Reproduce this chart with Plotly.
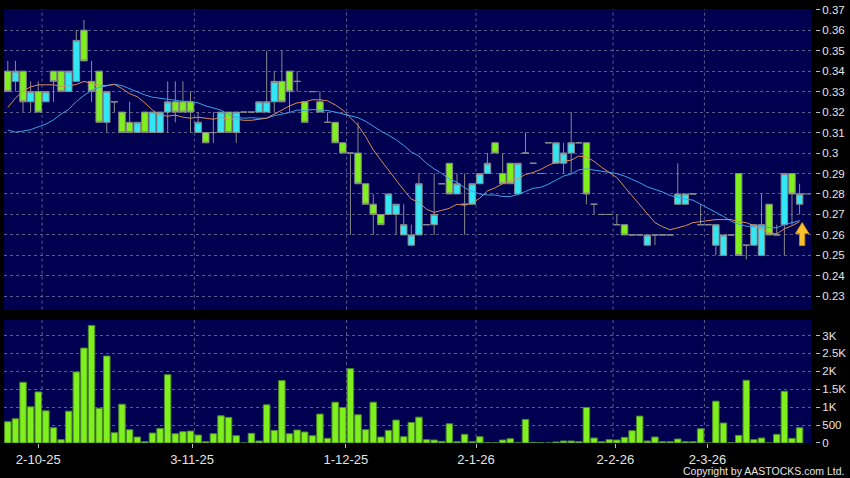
import plotly.graph_objects as go

# ---------------- data ----------------
opens = [0.34, 0.335, 0.34, 0.325, 0.33, 0.325, 0.34, 0.34, 0.33, 0.335,
         0.36, 0.335, 0.34, 0.315, 0.325, 0.32, 0.315, 0.31, 0.32, 0.31,
         0.31, 0.32, 0.325, 0.325, 0.325, 0.31, 0.31, 0.31, 0.31, 0.32,
         0.31, 0.32, 0.32, 0.32, 0.32, 0.325, 0.335, 0.34, 0.335, 0.325,
         0.33, 0.325, 0.315, 0.315, 0.305, 0.30, 0.30, 0.285, 0.275, 0.27,
         0.27, 0.27, 0.26, 0.255, 0.26, 0.265, 0.265, 0.285, 0.295, 0.28,
         0.275, 0.275, 0.285, 0.29, 0.305, 0.29, 0.295, 0.28, 0.30, 0.295,
         0.29, 0.305, 0.295, 0.295, 0.30, 0.305, 0.305, 0.275, 0.27, 0.27,
         0.265, 0.265, 0.26, 0.26, 0.255, 0.26, 0.26, 0.26, 0.275, 0.275,
         0.28, 0.265, 0.265, 0.255, 0.25, 0.26, 0.29, 0.255, 0.255, 0.25,
         0.275, 0.26, 0.265, 0.29, 0.275]
highs = [0.345, 0.345, 0.34, 0.335, 0.335, 0.33, 0.34, 0.34, 0.34, 0.36,
         0.365, 0.345, 0.34, 0.33, 0.325, 0.32, 0.325, 0.315, 0.32, 0.32,
         0.32, 0.335, 0.335, 0.335, 0.33, 0.32, 0.31, 0.32, 0.32, 0.32,
         0.32, 0.32, 0.32, 0.325, 0.35, 0.34, 0.35, 0.34, 0.34, 0.325,
         0.33, 0.33, 0.32, 0.315, 0.305, 0.30, 0.315, 0.285, 0.28, 0.27,
         0.28, 0.275, 0.275, 0.265, 0.29, 0.265, 0.29, 0.285, 0.295, 0.29,
         0.29, 0.285, 0.29, 0.30, 0.305, 0.30, 0.295, 0.295, 0.31, 0.295,
         0.29, 0.305, 0.305, 0.305, 0.32, 0.305, 0.305, 0.275, 0.27, 0.27,
         0.27, 0.265, 0.26, 0.26, 0.26, 0.26, 0.26, 0.26, 0.295, 0.28,
         0.28, 0.275, 0.265, 0.265, 0.26, 0.26, 0.29, 0.255, 0.265, 0.28,
         0.275, 0.265, 0.29, 0.29, 0.285]
lows = [0.33, 0.33, 0.32, 0.32, 0.32, 0.325, 0.325, 0.33, 0.33, 0.335,
        0.345, 0.325, 0.315, 0.31, 0.32, 0.31, 0.31, 0.31, 0.31, 0.31,
        0.31, 0.31, 0.315, 0.32, 0.31, 0.31, 0.305, 0.305, 0.31, 0.31,
        0.305, 0.32, 0.32, 0.32, 0.32, 0.32, 0.325, 0.32, 0.33, 0.315,
        0.33, 0.32, 0.315, 0.305, 0.30, 0.26, 0.285, 0.275, 0.26, 0.265,
        0.27, 0.26, 0.26, 0.255, 0.26, 0.265, 0.26, 0.285, 0.28, 0.28,
        0.26, 0.275, 0.285, 0.29, 0.30, 0.285, 0.285, 0.28, 0.30, 0.295,
        0.29, 0.305, 0.295, 0.29, 0.29, 0.305, 0.275, 0.27, 0.27, 0.27,
        0.265, 0.26, 0.26, 0.26, 0.255, 0.255, 0.26, 0.26, 0.275, 0.275,
        0.28, 0.265, 0.265, 0.25, 0.25, 0.26, 0.25, 0.248, 0.255, 0.25,
        0.26, 0.26, 0.25, 0.265, 0.27]
closes = [0.33, 0.34, 0.325, 0.33, 0.32, 0.33, 0.335, 0.33, 0.34, 0.355,
          0.345, 0.33, 0.315, 0.33, 0.325, 0.31, 0.31, 0.315, 0.31, 0.32,
          0.32, 0.325, 0.32, 0.32, 0.32, 0.315, 0.305, 0.31, 0.32, 0.31,
          0.32, 0.32, 0.32, 0.325, 0.325, 0.335, 0.325, 0.33, 0.335, 0.315,
          0.33, 0.32, 0.315, 0.305, 0.30, 0.30, 0.285, 0.275, 0.27, 0.265,
          0.28, 0.275, 0.265, 0.26, 0.285, 0.265, 0.27, 0.285, 0.28, 0.285,
          0.275, 0.285, 0.29, 0.295, 0.30, 0.285, 0.285, 0.295, 0.30, 0.295,
          0.29, 0.305, 0.305, 0.30, 0.305, 0.305, 0.28, 0.275, 0.27, 0.27,
          0.265, 0.26, 0.26, 0.26, 0.26, 0.26, 0.26, 0.26, 0.28, 0.28,
          0.28, 0.265, 0.265, 0.265, 0.26, 0.26, 0.25, 0.255, 0.265, 0.265,
          0.26, 0.26, 0.29, 0.28, 0.28]
volumes = [593, 676, 1694, 1009, 1426, 898, 426, 93, 889, 1981,
           2648, 3278, 972, 2426, 287, 1083, 370, 167, 37, 278,
           407, 1907, 259, 315, 333, 222, 37, 259, 759, 713,
           204, 0, 269, 56, 1065, 352, 1741, 259, 361, 306,
           204, 806, 130, 1139, 991, 2074, 787, 370, 1139, 167,
           352, 639, 176, 574, 722, 93, 83, 46, 537, 37,
           241, 37, 176, 5, 5, 83, 120, 5, 657, 19,
           9, 0, 28, 56, 56, 37, 991, 139, 37, 93,
           83, 157, 343, 750, 56, 167, 37, 37, 111, 37,
           37, 398, 0, 1167, 556, 9, 213, 1750, 93, 139,
           0, 241, 1444, 130, 426]
ma10 = [0.3222, 0.3268, 0.3303, 0.3323, 0.3333, 0.3333, 0.3333, 0.3326, 0.3328,
        0.3335, 0.3350, 0.3340, 0.3330, 0.3330, 0.3335, 0.3315, 0.3290, 0.3275, 0.3245,
        0.3210, 0.3185, 0.3180, 0.3185, 0.3175, 0.3170, 0.3175, 0.3170, 0.3165, 0.3175,
        0.3165, 0.3165, 0.3160, 0.3160, 0.3165, 0.3170, 0.3190, 0.3210, 0.3230, 0.3245,
        0.3250, 0.3260, 0.3260, 0.3255, 0.3235, 0.3210, 0.3175, 0.3135, 0.3080, 0.3015,
        0.2965, 0.2915, 0.2870, 0.2820, 0.2775, 0.2760, 0.2725, 0.2710, 0.2720, 0.2730,
        0.2750, 0.2745, 0.2755, 0.2780, 0.2815, 0.2830, 0.2850, 0.2865, 0.2875, 0.2895,
        0.2905, 0.2920, 0.2940, 0.2955, 0.2960, 0.2965, 0.2985, 0.2980, 0.2960, 0.2930,
        0.2905, 0.2880, 0.2835, 0.2790, 0.2750, 0.2705, 0.2660, 0.2640, 0.2625, 0.2635,
        0.2645, 0.2660, 0.2665, 0.2670, 0.2675, 0.2675, 0.2675, 0.2665, 0.2660, 0.2645,
        0.2630, 0.2610, 0.2605, 0.2630, 0.2645, 0.2665]
ma20 = [0.3112, 0.3102, 0.3107, 0.3114, 0.3128, 0.3141, 0.3162, 0.3190, 0.3213, 0.3252,
        0.3281, 0.3307, 0.3320, 0.3329, 0.3336, 0.3329, 0.3313, 0.3297, 0.3284,
        0.32725, 0.32675, 0.3260, 0.32575, 0.32525, 0.32525, 0.3245, 0.3230, 0.3220, 0.3210,
        0.31875, 0.3175, 0.3170, 0.31725, 0.3170, 0.3170, 0.31825, 0.3190, 0.31975, 0.3210,
        0.32075, 0.32125, 0.3210, 0.32075, 0.3200, 0.3190, 0.31825, 0.31725, 0.3155, 0.3130,
        0.31075, 0.30875, 0.3065, 0.30375, 0.3005, 0.2985, 0.2950, 0.29225, 0.2900, 0.28725,
        0.28575, 0.2830, 0.28125, 0.2800, 0.2795, 0.2795, 0.27875, 0.27875, 0.27975, 0.28125,
        0.28275, 0.28325, 0.28475, 0.28675, 0.28875, 0.28975, 0.29175, 0.29225, 0.29175, 0.29125,
        0.2905, 0.2900, 0.28875, 0.28725, 0.2855, 0.2835, 0.28225, 0.2810, 0.27925, 0.27825,
        0.2775, 0.2770, 0.2750, 0.2730, 0.27125, 0.2690, 0.26675, 0.26525, 0.26425, 0.2640,
        0.26375, 0.2635, 0.2635, 0.2650, 0.2660, 0.2670]

x_tick_labels = ["2-10-25", "3-11-25", "1-12-25", "2-1-26", "2-2-26", "2-3-26"]
x_tick_index = [4.0, 24.2, 44.4, 61.5, 79.8, 91.9]
x_grid_index = [4.5, 24.5, 44.5, 61.5, 79.5, 91.5]
vol_tick_vals = [0, 500, 1000, 1500, 2000, 2500, 3000]
vol_tick_text = ["0", "500", "1K", "1.5K", "2K", "2.5K", "3K"]

# ---------------- styling ----------------
BG = "#000000"
PLOT_BG = "#000050"
GRID = "#5c5c8c"
CYAN = "#33e6f4"
GREEN = "#7ff01e"
EDGE = "#8a8a8a"
TXT = "#e4e4e4"
FONT = "Liberation Sans"

n = len(closes)
idx = list(range(n))

fig = go.Figure()

fig.add_trace(go.Candlestick(
    x=idx, open=opens, high=highs, low=lows, close=closes,
    xaxis="x", yaxis="y",
    increasing=dict(fillcolor=CYAN, line=dict(color=EDGE, width=1)),
    decreasing=dict(fillcolor=GREEN, line=dict(color=EDGE, width=1)),
    whiskerwidth=0, hoverinfo="skip", showlegend=False,
))
fig.add_trace(go.Scatter(x=idx, y=ma20, mode="lines", xaxis="x", yaxis="y",
                         line=dict(color="#3aa2e6", width=1), hoverinfo="skip",
                         showlegend=False))
fig.add_trace(go.Scatter(x=idx, y=ma10, mode="lines", xaxis="x", yaxis="y",
                         line=dict(color="#dc8c58", width=1), hoverinfo="skip",
                         showlegend=False))
# last-price marker line
fig.add_trace(go.Scatter(x=[n - 1, n + 0.5], y=[closes[-1], closes[-1]], mode="lines",
                         xaxis="x", yaxis="y", line=dict(color=EDGE, width=1),
                         hoverinfo="skip", showlegend=False))

fig.add_trace(go.Bar(x=idx, y=volumes, xaxis="x2", yaxis="y2",
                     marker=dict(color=GREEN, line=dict(color="#4d8a2a", width=1)),
                     hoverinfo="skip", showlegend=False))

W, H = 850, 478
ML, MR, MT, MB = 4, 32, 7, 35
plot_w = W - ML - MR
plot_h = H - MT - MB
x_dom = [0, (814 - ML) / plot_w]
top_dom = [(443 - 309) / plot_h, 1]
vol_dom = [0, (443 - 319) / plot_h]

ytickfont = dict(family=FONT, size=11.5, color=TXT)
xtickfont = dict(family=FONT, size=13, color=TXT)

shapes = []
for g in x_grid_index:
    for xr, yr in (("x", "y domain"), ("x2", "y2 domain")):
        shapes.append(dict(type="line", xref=xr, yref=yr, x0=g, x1=g, y0=0, y1=1,
                           line=dict(color=GRID, width=1, dash="3px,3px"), layer="below"))
# yellow up arrow next to the last candle
shapes.append(dict(type="path", xref="x", yref="y", xsizemode="pixel", ysizemode="pixel",
                   xanchor=n - 1, yanchor=ma20[-1],
                   path="M 2.6,-2 L 9.4,-13 L 5.2,-13 L 5.2,-25 L 0,-25 L 0,-13 L -4.2,-13 Z",
                   fillcolor="#f7c22e", line=dict(color="#c88a10", width=1), layer="above"))

fig.update_layout(
    width=W, height=H,
    margin=dict(l=ML, r=MR, t=MT, b=MB),
    paper_bgcolor=BG, plot_bgcolor=PLOT_BG,
    showlegend=False,
    boxgap=0.15, boxgroupgap=0, bargap=0.15,
    xaxis=dict(domain=x_dom, anchor="y", range=[-0.5, n + 0.5],
               showticklabels=False, ticks="", showgrid=False, zeroline=False,
               showline=False, rangeslider=dict(visible=False)),
    xaxis2=dict(domain=x_dom, anchor="y2", matches="x", range=[-0.5, n + 0.5],
                tickmode="array", tickvals=x_tick_index, ticktext=x_tick_labels,
                ticks="outside", ticklen=4, tickcolor="#bbbbbb", showgrid=False,
                zeroline=False, showline=False, tickfont=xtickfont),
    yaxis=dict(domain=top_dom, anchor="free", position=1, side="right",
               range=[0.22353, 0.37034], tickmode="linear", tick0=0.23, dtick=0.01,
               ticks="outside", ticklen=4, tickcolor="#bbbbbb",
               showgrid=True, gridcolor=GRID, griddash="3px,3px", gridwidth=1,
               zeroline=False, showline=False, tickfont=ytickfont),
    yaxis2=dict(domain=vol_dom, anchor="free", position=1, side="right",
                range=[0, 3444], tickmode="array", tickvals=vol_tick_vals,
                ticktext=vol_tick_text, ticks="outside", ticklen=4, tickcolor="#bbbbbb",
                showgrid=True, gridcolor=GRID, griddash="3px,3px", gridwidth=1,
                zeroline=False, showline=False, tickfont=ytickfont),
    shapes=shapes,
    annotations=[dict(text="Copyright by AASTOCKS.com Ltd.", xref="paper", yref="paper",
                      x=(849 - ML) / plot_w, y=(443 - 471.5) / plot_h,
                      xanchor="right", yanchor="middle", showarrow=False,
                      font=dict(family=FONT, size=10.5, color=TXT))],
)

fig.write_html("out.html",
               config={"displayModeBar": False},
               post_script="document.body.style.margin='0px';"
                           "document.body.style.overflow='hidden';"
                           "document.body.style.background='#000000';")
